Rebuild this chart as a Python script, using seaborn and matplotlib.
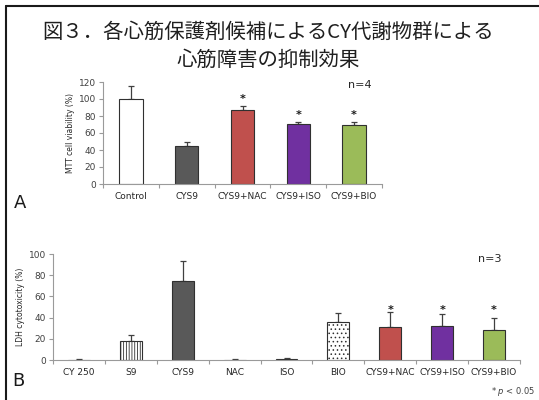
import matplotlib
matplotlib.use("Agg")
import matplotlib.pyplot as plt
from matplotlib.lines import Line2D
import seaborn as sns
import pandas as pd
import numpy as np

# Panel A: MTT cell viability
cats_a = ["Control", "CYS9", "CYS9+NAC", "CYS9+ISO", "CYS9+BIO"]
mtt = [100, 45, 87.5, 70.5, 70]
mtt_err = [15.5, 5, 4.5, 2, 2.5]
sig_a = [False, False, True, True, True]
colors_a = ["#FFFFFF", "#595959", "#C0504D", "#7030A0", "#9BBB59"]
hatch_a = ["", "", "", "", ""]

# Panel B: LDH cytotoxicity
cats_b = ["CY 250", "S9", "CYS9", "NAC", "ISO", "BIO", "CYS9+NAC", "CYS9+ISO", "CYS9+BIO"]
ldh = [0, 18, 74.5, 0, 1.2, 36, 31, 32, 28.5]
ldh_err = [1, 6, 19, 0.8, 0.5, 8, 14, 11, 11.5]
sig_b = [False, False, False, False, False, False, True, True, True]
colors_b = ["#FFFFFF", "#FFFFFF", "#595959", "#FFFFFF", "#FFFFFF", "#FFFFFF",
            "#C0504D", "#7030A0", "#9BBB59"]
hatch_b = ["", "||||||", "", "", "", "....", "", "", ""]

sns.set_theme(style="white")
plt.rcParams["font.family"] = ["Noto Sans CJK JP", "DejaVu Sans"]
plt.rcParams["hatch.linewidth"] = 0.6
plt.rcParams["hatch.color"] = "#404040"

fig = plt.figure(figsize=(5.39, 4.0), dpi=100)
fig.patch.set_facecolor("white")

title_color = "#1f1f1f"
fig.text(0.497, 0.918, "図３．各心筋保護剤候補によるCY代謝物群による",
         ha="center", va="center", fontsize=14.7, color=title_color)
fig.text(0.497, 0.850, "心筋障害の抑制効果",
         ha="center", va="center", fontsize=14.7, color=title_color)

# Frame lines (left and top)
fig.add_artist(Line2D([5.5 / 539, 5.5 / 539], [0, 1 - 6 / 400],
                      transform=fig.transFigure, color="#1a1a1a", lw=1.5))
fig.add_artist(Line2D([5.5 / 539, 1], [1 - 6 / 400, 1 - 6 / 400],
                      transform=fig.transFigure, color="#1a1a1a", lw=1.5))


def draw_panel(ax, cats, vals, errs, colors, hatches, sig, ymax, ystep,
               ylabel, star_level=None):
    df = pd.DataFrame({"cat": cats, "val": vals})
    sns.barplot(data=df, x="cat", y="val", hue="cat", palette=colors,
                saturation=1, legend=False, width=0.42, edgecolor="#303030",
                linewidth=0.8, errorbar=None, ax=ax, zorder=2)
    for p, h in zip(ax.patches, hatches):
        if h:
            p.set_hatch(h)
    xs = np.arange(len(cats))
    ax.errorbar(xs, vals, yerr=[np.zeros(len(errs)), errs], fmt="none",
                ecolor="#404040", elinewidth=0.9, capsize=2.5, capthick=0.9,
                zorder=1)
    for x, v, e, s in zip(xs, vals, errs, sig):
        if s:
            y = star_level if star_level is not None else v + e + ymax * 0.07
            ax.text(x, y, "*", ha="center", va="center", fontsize=8,
                    fontweight="bold", color="#1a1a1a", family="DejaVu Sans")
    ax.set_xlim(-0.5, len(cats) - 0.5)
    ax.set_ylim(0, ymax)
    ax.set_yticks(np.arange(0, ymax + 1, ystep))
    ax.set_xlabel("")
    ax.set_ylabel(ylabel, fontsize=5.5, color="#262626", family="DejaVu Sans",
                  labelpad=3)
    for side in ("top", "right"):
        ax.spines[side].set_visible(False)
    for side in ("left", "bottom"):
        ax.spines[side].set_color("#9a9a9a")
        ax.spines[side].set_linewidth(0.8)
    ax.tick_params(axis="y", labelsize=6.5, colors="#9a9a9a", labelcolor="#404040",
                   length=3, width=0.8, direction="out", left=True, pad=2)
    ax.set_xticks(xs)
    ax.set_xticklabels(cats, fontsize=6.5, color="#262626", family="DejaVu Sans")
    ax.tick_params(axis="x", length=0, pad=6)
    ax.set_xticks(np.arange(-0.5, len(cats) + 0.5, 1), minor=True)
    ax.tick_params(axis="x", which="minor", length=3, width=0.8,
                   colors="#9a9a9a", direction="out", bottom=True)
    for lab in ax.get_yticklabels():
        lab.set_family("DejaVu Sans")


# Panel A
axA = fig.add_axes([103 / 539, 1 - 184 / 400, 279 / 539, 102 / 400])
draw_panel(axA, cats_a, mtt, mtt_err, colors_a, hatch_a, sig_a, 120, 20,
           "MTT cell viability (%)")
axA.text(0.92, 0.97, "n=4", transform=axA.transAxes, ha="center", va="center",
         fontsize=8, color="#262626", family="DejaVu Sans")

# Panel B
axB = fig.add_axes([53 / 539, 1 - 360 / 400, 467 / 539, 106 / 400])
draw_panel(axB, cats_b, ldh, ldh_err, colors_b, hatch_b, sig_b, 100, 20,
           "LDH cytotoxicity (%)", star_level=47.5)
axB.text(0.935, 0.95, "n=3", transform=axB.transAxes, ha="center", va="center",
         fontsize=8, color="#262626", family="DejaVu Sans")

fig.text(14 / 539, 1 - 203 / 400, "A", fontsize=13, color="#1a1a1a",
         ha="left", va="center", family="DejaVu Sans")
fig.text(12 / 539, 1 - 381 / 400, "B", fontsize=13, color="#1a1a1a",
         ha="left", va="center", family="DejaVu Sans")
fig.text(535 / 539, 1 - 392 / 400, "* $\\it{p}$ < 0.05", fontsize=6,
         color="#404040", ha="right", va="center", family="DejaVu Sans")

fig.savefig("out.png", dpi=100, facecolor="white")
